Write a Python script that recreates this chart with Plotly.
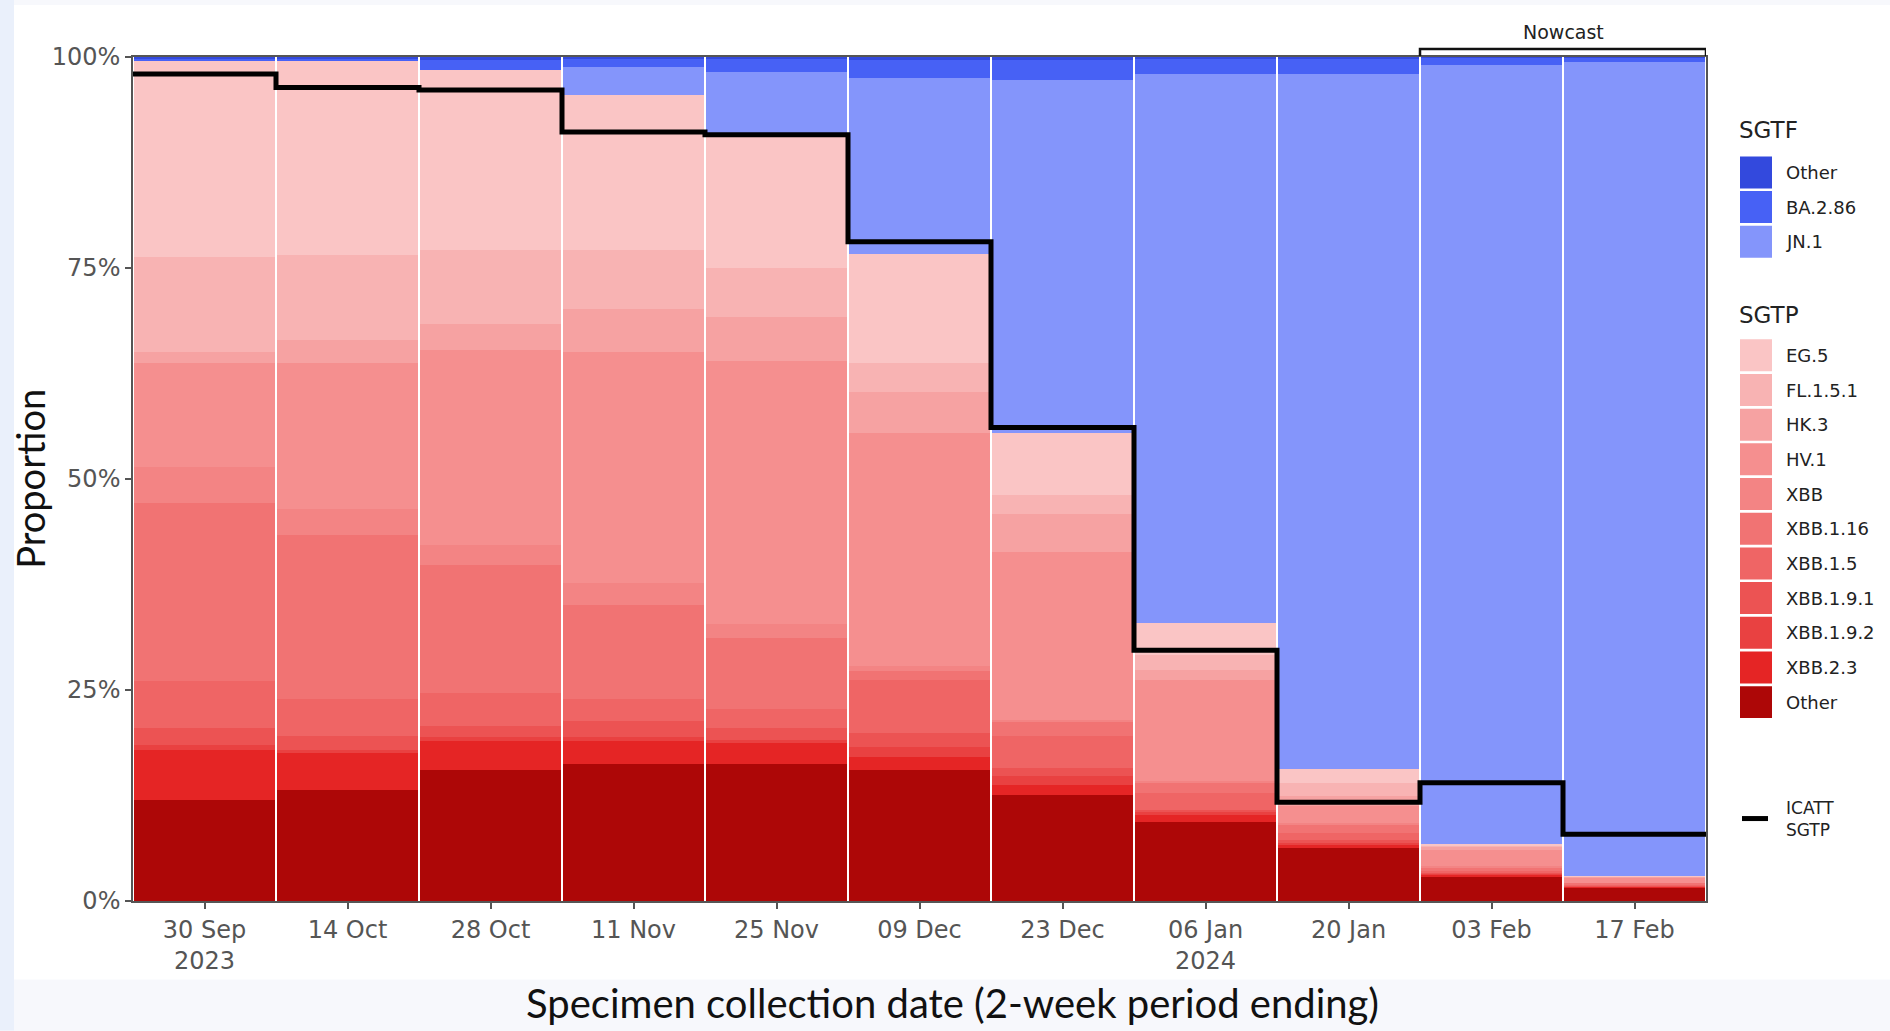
import plotly.graph_objects as go

# ---------------- data ----------------
categories = ["30 Sep<br>2023", "14 Oct", "28 Oct", "11 Nov", "25 Nov", "09 Dec",
              "23 Dec", "06 Jan<br>2024", "20 Jan", "03 Feb", "17 Feb"]

# SGTP lineages (bottom of stack upward), percent
sgtp_other = [12.0, 13.1, 15.5, 16.2, 16.2, 15.5, 12.6, 9.4, 6.3, 2.9, 1.6]
xbb_2_3    = [5.9, 4.4, 3.5, 2.8, 2.5, 1.6, 1.1, 0.8, 0.4, 0.2, 0.1]
xbb_1_9_2  = [0.6, 0.4, 0.4, 0.4, 0.4, 1.2, 1.1, 0.3, 0.2, 0.1, 0.05]
xbb_1_9_1  = [2.0, 1.6, 1.3, 1.9, 1.4, 1.6, 1.0, 0.3, 0.3, 0.1, 0.05]
xbb_1_5    = [5.6, 4.4, 3.9, 2.6, 2.2, 6.3, 3.7, 2.0, 0.9, 0.3, 0.1]
xbb_1_16   = [21.1, 19.5, 15.2, 11.2, 8.5, 1.0, 1.7, 1.2, 1.0, 0.4, 0.2]
xbb        = [4.2, 3.1, 2.4, 2.6, 1.6, 0.6, 0.3, 0.2, 0.1, 0.1, 0.0]
hv_1       = [12.3, 17.3, 23.1, 27.4, 31.2, 27.7, 19.9, 12.0, 2.0, 1.9, 0.7]
hk_3       = [1.4, 2.7, 3.1, 5.1, 5.2, 4.8, 4.4, 1.2, 1.2, 0.4, 0.1]
fl_1_5_1   = [11.2, 10.0, 8.7, 6.9, 5.8, 3.5, 2.3, 1.7, 1.6, 0.2, 0.05]
eg_5       = [23.2, 23.0, 21.4, 18.4, 15.8, 12.9, 7.3, 3.8, 1.6, 0.1, 0.05]
# SGTF lineages
jn_1       = [0.0, 0.0, 0.0, 3.3, 7.4, 20.8, 41.9, 65.1, 82.4, 92.3, 96.4]
ba_2_86    = [0.3, 0.3, 1.1, 1.0, 1.6, 2.2, 2.4, 1.8, 1.8, 0.9, 0.5]
sgtf_other = [0.2, 0.2, 0.4, 0.2, 0.2, 0.3, 0.3, 0.2, 0.2, 0.1, 0.1]

# ICATT SGTP proportion (black step line), percent
icatt_sgtp = [98.0, 96.4, 96.1, 91.1, 90.8, 78.1, 56.1, 29.7, 11.7, 14.0, 7.9]

y_ticks = [0, 25, 50, 75, 100]
y_tick_labels = ["0%", "25%", "50%", "75%", "100%"]

sgtp_names  = ["Other", "XBB.2.3", "XBB.1.9.2", "XBB.1.9.1", "XBB.1.5", "XBB.1.16",
               "XBB", "HV.1", "HK.3", "FL.1.5.1", "EG.5"]
sgtp_values = [sgtp_other, xbb_2_3, xbb_1_9_2, xbb_1_9_1, xbb_1_5, xbb_1_16,
               xbb, hv_1, hk_3, fl_1_5_1, eg_5]
sgtp_colors = ["#AD0707", "#E52525", "#E94141", "#EC5353", "#EF6565", "#F17373",
               "#F38484", "#F58F8F", "#F6A2A2", "#F8B3B3", "#FAC5C5"]

sgtf_names  = ["JN.1", "BA.2.86", "Other"]
sgtf_values = [jn_1, ba_2_86, sgtf_other]
sgtf_colors = ["#8495FB", "#4761F5", "#3349DD"]

nowcast_start = "03 Feb"

# ---------------- layout helpers (pixel -> paper) ----------------
W, H = 1890, 1031
PL, PR, PT, PB = 133, 1706, 57, 901.5


def px(x):
    return (x - PL) / (PR - PL)


def py(y):
    return (PB - y) / (PB - PT)


n = len(categories)
xs = list(range(n))

fig = go.Figure()

for name, vals, col in zip(sgtp_names, sgtp_values, sgtp_colors):
    fig.add_trace(go.Bar(x=xs, y=vals, name=name, legendgroup="SGTP",
                         marker=dict(color=col, line=dict(width=0)),
                         showlegend=False))
for name, vals, col in zip(sgtf_names, sgtf_values, sgtf_colors):
    fig.add_trace(go.Bar(x=xs, y=vals, name=name, legendgroup="SGTF",
                         marker=dict(color=col, line=dict(width=0)),
                         showlegend=False))

# step line spanning the full width of each bar
edges = [i - 0.5 for i in xs] + [n - 0.5]
fig.add_trace(go.Scatter(x=edges, y=icatt_sgtp + [icatt_sgtp[-1]], mode="lines",
                         line=dict(color="black", width=5, shape="hv"),
                         name="ICATT SGTP", showlegend=False))

shapes = []
annotations = []

# slide background pieces
shapes.append(dict(type="rect", xref="paper", yref="paper", layer="below",
                   x0=px(0), x1=px(14), y0=py(H), y1=py(0),
                   fillcolor="#EAF0FB", line=dict(width=0)))
shapes.append(dict(type="rect", xref="paper", yref="paper", layer="below",
                   x0=px(14), x1=px(W), y0=py(980), y1=py(5),
                   fillcolor="white", line=dict(width=0)))

# nowcast bracket
ns = categories.index(nowcast_start) - 0.5
ne = n - 0.5
yb, yt = py(56), py(49)
shapes.append(dict(type="path", xref="x", yref="paper",
                   path=f"M {ns},{yb} L {ns},{yt} L {ne},{yt} L {ne},{yb}",
                   line=dict(color="#111111", width=2.5)))
annotations.append(dict(x=(ns + ne) / 2, y=py(32), xref="x", yref="paper",
                        text="Nowcast", showarrow=False,
                        font=dict(family="DejaVu Sans", size=19, color="#222222"),
                        xanchor="center", yanchor="middle"))

# manual legend
sw_x0, sw_x1 = 1740, 1772
lab_x = 1784
pitch = 34.7
legend_font = dict(family="DejaVu Sans", size=18, color="#222222")
title_font = dict(family="DejaVu Sans", size=23, color="#222222")

annotations.append(dict(x=px(1737), y=py(130), xref="paper", yref="paper", text="SGTF",
                        showarrow=False, xanchor="left", yanchor="middle", font=title_font))
sgtf_leg = list(zip(sgtf_names, sgtf_colors))[::-1]
for i, (name, col) in enumerate(sgtf_leg):
    cy = 172.5 + i * pitch
    shapes.append(dict(type="rect", xref="paper", yref="paper",
                       x0=px(sw_x0), x1=px(sw_x1), y0=py(cy + 16), y1=py(cy - 16),
                       fillcolor=col, line=dict(width=0)))
    annotations.append(dict(x=px(lab_x), y=py(cy), xref="paper", yref="paper", text=name,
                            showarrow=False, xanchor="left", yanchor="middle", font=legend_font))

annotations.append(dict(x=px(1737), y=py(315), xref="paper", yref="paper", text="SGTP",
                        showarrow=False, xanchor="left", yanchor="middle", font=title_font))
sgtp_leg = list(zip(sgtp_names, sgtp_colors))[::-1]
for i, (name, col) in enumerate(sgtp_leg):
    cy = 355.5 + i * pitch
    shapes.append(dict(type="rect", xref="paper", yref="paper",
                       x0=px(sw_x0), x1=px(sw_x1), y0=py(cy + 16), y1=py(cy - 16),
                       fillcolor=col, line=dict(width=0)))
    annotations.append(dict(x=px(lab_x), y=py(cy), xref="paper", yref="paper", text=name,
                            showarrow=False, xanchor="left", yanchor="middle", font=legend_font))

shapes.append(dict(type="line", xref="paper", yref="paper",
                   x0=px(1742), x1=px(1768), y0=py(819), y1=py(819),
                   line=dict(color="black", width=5)))
for txt, yy in (("ICATT", 808), ("SGTP", 830)):
    annotations.append(dict(x=px(lab_x), y=py(yy), xref="paper", yref="paper", text=txt,
                            showarrow=False, xanchor="left", yanchor="middle",
                            font=dict(family="DejaVu Sans", size=17, color="#222222")))

# axis titles
annotations.append(dict(x=px(30), y=py(479), xref="paper", yref="paper", text="Proportion",
                        showarrow=False, textangle=-90, xanchor="center", yanchor="middle",
                        font=dict(family="Lato", size=38, color="#111111")))
annotations.append(dict(x=px(952), y=py(1004), xref="paper", yref="paper",
                        text="Specimen collection date (2-week period ending)",
                        showarrow=False, xanchor="center", yanchor="middle",
                        font=dict(family="Lato", size=40, color="#111111")))

axis_common = dict(showgrid=False, zeroline=False, showline=True, mirror=True,
                   linecolor="#555555", linewidth=1.5, ticks="outside", ticklen=6,
                   tickcolor="#555555", tickwidth=1.5,
                   tickfont=dict(family="DejaVu Sans", size=24, color="#555555"))

fig.update_layout(
    width=W, height=H,
    barmode="stack", bargap=0.02,
    paper_bgcolor="#F7F8FC", plot_bgcolor="white",
    margin=dict(l=PL, r=W - PR, t=PT, b=H - PB),
    showlegend=False,
    shapes=shapes, annotations=annotations,
    xaxis=dict(range=[-0.5, n - 0.5], tickmode="array", tickvals=xs, ticktext=categories,
               **axis_common),
    yaxis=dict(range=[0, 100], tickmode="array", tickvals=y_ticks, ticktext=y_tick_labels,
               **axis_common),
)

fig.write_html("out.html", config={"displayModeBar": False},
               post_script="document.body.style.margin='0';document.body.style.overflow='hidden';")
